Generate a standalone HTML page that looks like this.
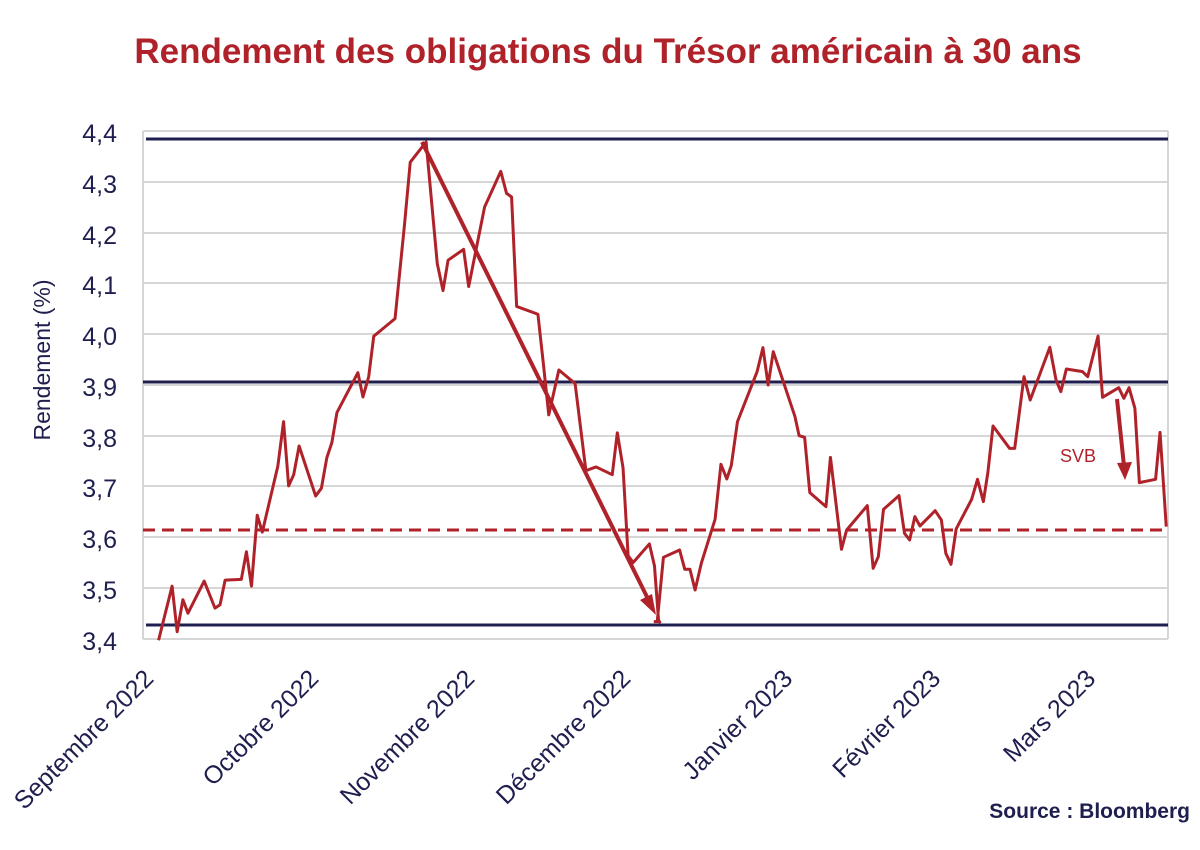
<!DOCTYPE html>
<html><head><meta charset="utf-8"><style>
body{margin:0;background:#fff;}
svg{display:block;font-family:"Liberation Sans",sans-serif;}
</style></head><body>
<svg width="1200" height="850" viewBox="0 0 1200 850">
<text x="608" y="63" text-anchor="middle" font-size="35" font-weight="bold" fill="#b0222a">Rendement des obligations du Trésor américain à 30 ans</text>
<g stroke="#d6d6d6" stroke-width="2">
<line x1="143" y1="131" x2="1168" y2="131"/>
<line x1="143" y1="182" x2="1168" y2="182"/>
<line x1="143" y1="233" x2="1168" y2="233"/>
<line x1="143" y1="283" x2="1168" y2="283"/>
<line x1="143" y1="334" x2="1168" y2="334"/>
<line x1="143" y1="385" x2="1168" y2="385"/>
<line x1="143" y1="436" x2="1168" y2="436"/>
<line x1="143" y1="486" x2="1168" y2="486"/>
<line x1="143" y1="537" x2="1168" y2="537"/>
<line x1="143" y1="588" x2="1168" y2="588"/>
<line x1="143" y1="639" x2="1168" y2="639"/>
<line x1="143" y1="131" x2="143" y2="639"/>
<line x1="1168" y1="131" x2="1168" y2="639"/>
</g>
<g stroke="#1f1f4f" stroke-width="3">
<line x1="146" y1="139" x2="1168" y2="139"/>
<line x1="143" y1="382" x2="1168" y2="382"/>
<line x1="146" y1="625" x2="1168" y2="625"/>
</g>
<line x1="143" y1="530" x2="1168" y2="530" stroke="#b0222a" stroke-width="3" stroke-dasharray="12,7"/>
<g font-size="25" fill="#1f1f4f" text-anchor="end">
<text x="117" y="142">4,4</text><text x="117" y="193">4,3</text><text x="117" y="244">4,2</text>
<text x="117" y="294">4,1</text><text x="117" y="345">4,0</text><text x="117" y="396">3,9</text>
<text x="117" y="447">3,8</text><text x="117" y="497">3,7</text><text x="117" y="548">3,6</text>
<text x="117" y="599">3,5</text><text x="117" y="650">3,4</text>
</g>
<text transform="translate(50,360) rotate(-90)" text-anchor="middle" font-size="23" fill="#1f1f4f">Rendement (%)</text>
<g font-size="25" fill="#1f1f4f" text-anchor="end">
<text transform="translate(155,680) rotate(-45)">Septembre 2022</text>
<text transform="translate(320,680) rotate(-45)">Octobre 2022</text>
<text transform="translate(476,680) rotate(-45)">Novembre 2022</text>
<text transform="translate(632,680) rotate(-45)">Décembre 2022</text>
<text transform="translate(794,680) rotate(-45)">Janvier 2023</text>
<text transform="translate(942,680) rotate(-45)">Février 2023</text>
<text transform="translate(1097,680) rotate(-45)">Mars 2023</text>
</g>
<text x="1190" y="818" text-anchor="end" font-size="21" font-weight="bold" fill="#1f1f4f">Source : Bloomberg</text>
<text x="1060" y="462" font-size="18" fill="#b0222a">SVB</text>
<g fill="none" stroke="#b0222a" stroke-width="3" stroke-linejoin="round">
<g transform="translate(140,120) scale(0.3378)">
<polyline vector-effect="non-scaling-stroke" points="55,1540 95,1380 110,1515 127,1420 142,1460 190,1365 222,1445 237,1435 252,1362 300,1360 315,1278 330,1380 347,1170 362,1220 408,1025 425,893 440,1083 455,1050 471,965 520,1113 537,1090 553,1000 568,955 583,866 645,748 660,820 677,760 692,640 755,588 783,310 800,125 847,65 880,425 897,505 912,415 958,383 973,493 1020,258 1068,152 1085,217 1100,228 1115,552 1178,575 1195,730 1210,873 1240,740 1288,780 1320,1038 1350,1027 1398,1050 1413,926 1430,1030 1445,1290 1460,1310 1508,1255 1523,1320 1535,1480 1540,1490"/>
</g>
<g transform="translate(640,320) scale(0.3444,0.3333)">
<polyline vector-effect="non-scaling-stroke" points="40,905 50,905 68,712 115,690 130,748 145,748 160,810 178,730 218,598 235,433 252,477 265,437 283,305 340,155 357,83 372,195 387,95 450,290 462,347 478,352 493,518 540,560 553,412 585,688 600,630 660,557 677,745 692,710 707,568 752,527 768,640 783,660 798,590 813,618 857,572 875,600 888,700 903,733 918,627 963,538 980,478 997,545 1010,458 1025,318 1073,385 1088,385 1115,170 1133,240 1190,82 1208,180 1222,215 1238,147 1285,155 1300,170 1330,48 1343,232 1390,203 1405,235 1420,203 1437,265 1450,488 1497,478 1510,337 1528,620"/>
</g>
<line x1="422" y1="142" x2="650" y2="603" stroke-width="4"/>
<line x1="1117" y1="399" x2="1124" y2="466" stroke-width="4"/>
</g>
<polygon points="656,615 640,600 652,594" fill="#b0222a"/>
<polygon points="1125,480 1117,463 1132,462" fill="#b0222a"/>
</svg>
</body></html>
